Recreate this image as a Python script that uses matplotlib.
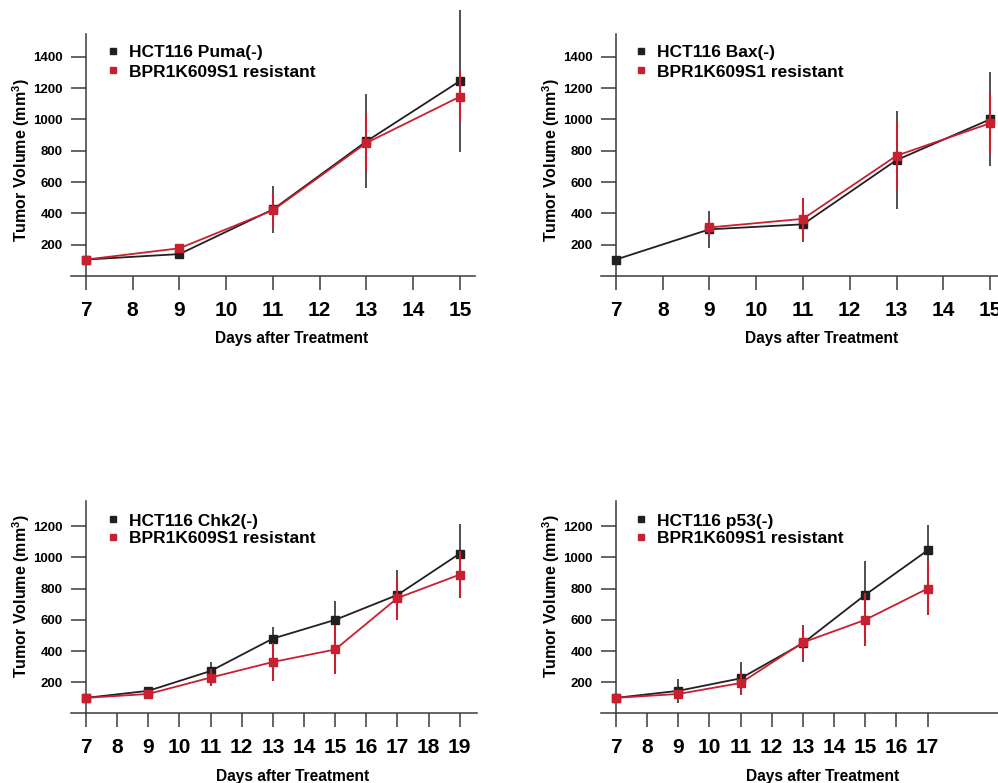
import matplotlib
matplotlib.use("Agg")
import matplotlib.pyplot as plt
from matplotlib.lines import Line2D

BLACK = "#231f20"
RED = "#c8202f"
AXIS = "#3a3a3a"
RES_LABEL = "BPR1K609S1 resistant"

# ── data ───────────────────────────────────────────────────────
puma_days = [7, 9, 11, 13, 15]
puma_ko = [105, 140, 425, 860, 1245]
puma_ko_err = [0, 10, 150, 300, 455]
puma_res_days = [7, 9, 11, 13, 15]
puma_res = [105, 177, 420, 850, 1145]
puma_res_err = [0, 10, 112, 185, 155]

bax_days = [7, 9, 11, 13, 15]
bax_ko = [105, 298, 330, 740, 1000]
bax_ko_err = [0, 120, 110, 315, 300]
bax_res_days = [9, 11, 13, 15]
bax_res = [310, 365, 768, 975]
bax_res_err = [50, 135, 220, 190]

chk2_days = [7, 9, 11, 13, 15, 17, 19]
chk2_ko = [100, 145, 272, 480, 600, 760, 1025]
chk2_ko_err = [0, 0, 60, 72, 120, 160, 190]
chk2_res_days = [7, 9, 11, 13, 15, 17, 19]
chk2_res = [100, 125, 230, 330, 410, 740, 890]
chk2_res_err = [0, 10, 55, 120, 160, 135, 150]

p53_days = [7, 9, 11, 13, 15, 17]
p53_ko = [100, 145, 225, 450, 760, 1045]
p53_ko_err = [0, 75, 105, 120, 220, 165]
p53_res_days = [7, 9, 11, 13, 15, 17]
p53_res = [100, 125, 195, 455, 600, 800]
p53_res_err = [0, 20, 70, 90, 170, 170]

plt.rcParams["font.family"] = ["Liberation Sans", "DejaVu Sans"]
plt.rcParams["font.weight"] = "bold"
plt.rcParams["mathtext.fontset"] = "custom"
plt.rcParams["mathtext.rm"] = "Liberation Sans:bold"
plt.rcParams["mathtext.default"] = "rm"


def draw_panel(ax, days, ko, ko_err, res_days, res, res_err, ko_label,
               xlim, ylim, xticks, yticks, leg_anchor, leg_space, ylab_y, xlab_y):
    ax.errorbar(days, ko, yerr=ko_err, color=BLACK, lw=1.3, elinewidth=1.1,
                marker="s", ms=6, capsize=0, clip_on=False, zorder=3)
    ax.errorbar(res_days, res, yerr=res_err, color=RED, lw=1.3, elinewidth=1.5,
                marker="s", ms=6, capsize=0, clip_on=False, zorder=4)

    ax.set_xlim(*xlim)
    ax.set_ylim(*ylim)
    ax.set_xticks(xticks)
    ax.set_yticks(yticks)
    for s in ("top", "right"):
        ax.spines[s].set_visible(False)
    ax.spines["left"].set_position(("data", 7))
    for s in ("left", "bottom"):
        ax.spines[s].set_color(AXIS)
        ax.spines[s].set_linewidth(1.1)
    ax.tick_params(axis="x", direction="out", length=10, width=1.1,
                   color=AXIS, labelsize=15, pad=8)
    ax.tick_params(axis="y", direction="out", length=10.5, width=1.1,
                   color=AXIS, labelsize=9.5, pad=6)

    ax.text(-0.123, ylab_y, "Tumor Volume (mm$^3$)", rotation=90,
            ha="center", va="center", fontsize=11.5, transform=ax.transAxes)
    ax.text(0.545, xlab_y, "Days after Treatment", ha="center", va="center",
            fontsize=11.2, transform=ax.transAxes)

    handles = [Line2D([], [], ls="none", marker="s", ms=4.5, color=BLACK),
               Line2D([], [], ls="none", marker="s", ms=4.5, color=RED)]
    ax.legend(handles, [ko_label, RES_LABEL], loc="upper left",
              bbox_to_anchor=leg_anchor, frameon=False, fontsize=12.5,
              handlelength=0.8, handletextpad=0.5, labelspacing=leg_space,
              borderpad=0, borderaxespad=0)


fig = plt.figure(figsize=(9.98, 7.83), dpi=100)
ax1 = fig.add_axes([0.0711, 0.6475, 0.4048, 0.3091])
ax2 = fig.add_axes([0.6022, 0.6475, 0.4048, 0.3091])
ax3 = fig.add_axes([0.0711, 0.0888, 0.4068, 0.2718])
ax4 = fig.add_axes([0.6022, 0.0888, 0.4068, 0.2718])

top_yticks = [200, 400, 600, 800, 1000, 1200, 1400]
bot_yticks = [200, 400, 600, 800, 1000, 1200]

draw_panel(ax1, puma_days, puma_ko, puma_ko_err, puma_res_days, puma_res,
           puma_res_err, "HCT116 Puma(-)", (6.68, 15.32), (0, 1545),
           range(7, 16), top_yticks, (0.087, 0.955), 0.25, 0.479, -0.26)
draw_panel(ax2, bax_days, bax_ko, bax_ko_err, bax_res_days, bax_res,
           bax_res_err, "HCT116 Bax(-)", (6.68, 15.32), (0, 1545),
           range(7, 16), top_yticks, (0.082, 0.955), 0.25, 0.479, -0.26)
draw_panel(ax3, chk2_days, chk2_ko, chk2_ko_err, chk2_res_days, chk2_res,
           chk2_res_err, "HCT116 Chk2(-)", (6.52, 19.55), (0, 1364),
           range(7, 20), bot_yticks, (0.087, 0.94), 0.15, 0.552, -0.294)
draw_panel(ax4, p53_days, p53_ko, p53_ko_err, p53_res_days, p53_res,
           p53_res_err, "HCT116 p53(-)", (6.52, 19.55), (0, 1364),
           range(7, 18), bot_yticks, (0.082, 0.94), 0.15, 0.552, -0.294)

fig.savefig("out.png", dpi=100)
